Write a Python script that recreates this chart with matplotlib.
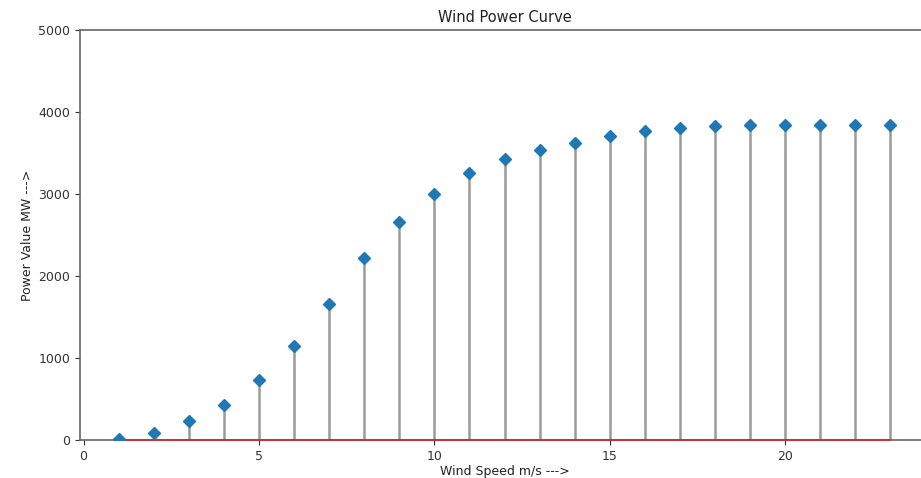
import matplotlib
matplotlib.use("Agg")
import matplotlib.pyplot as plt

wind_speed = list(range(1, 24))
power_mw = [10, 90, 232, 430, 735, 1146, 1655, 2223, 2659, 2996, 3256, 3427,
            3537, 3626, 3703, 3768, 3801, 3829, 3841, 3841, 3841, 3841, 3841]

fig = plt.figure(figsize=(9.21, 4.78), dpi=100)
W, H = 921, 478
ax = fig.add_axes([80 / W, 1 - 440 / H, (929 - 80) / W, (440 - 30) / H])

markerline, stemlines, baseline = ax.stem(wind_speed, power_mw, linefmt='grey',
                                          markerfmt='D', basefmt='r-')
markerline.set_markersize(6)
markerline.set_color('#1f77b4')
markerline.set_zorder(4)
stemlines.set_color('#9a9a9a')
stemlines.set_linewidth(1.8)
baseline.set_color('#d62728')
baseline.set_linewidth(1.2)
baseline.set_zorder(3.5)
baseline.set_clip_on(False)

ax.set_xlim(-0.1, 24.1)
ax.set_ylim(0, 5000)
ax.set_xticks([0, 5, 10, 15, 20])
ax.set_yticks([0, 1000, 2000, 3000, 4000, 5000])
ax.tick_params(labelsize=9, colors='#333333')
for s in ax.spines.values():
    s.set_color('#666666')
    s.set_linewidth(1.2)

ax.set_title('Wind Power Curve', fontsize=10.5, color='#222222')
ax.set_xlabel('Wind Speed m/s --->', fontsize=9, color='#222222', labelpad=2)
ax.set_ylabel('Power Value MW --->', fontsize=9, color='#222222', labelpad=3)

fig.savefig('out.png', dpi=100)
